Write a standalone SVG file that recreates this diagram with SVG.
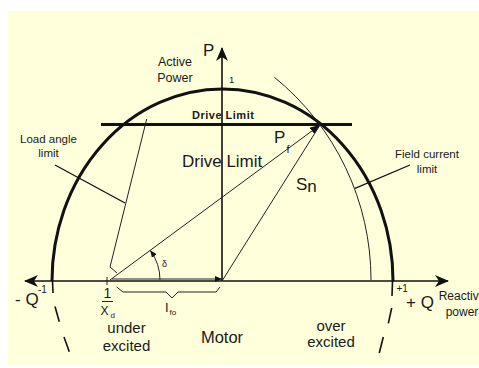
<svg xmlns="http://www.w3.org/2000/svg" width="479" height="368" viewBox="0 0 479 368">
  <style>
    .t { font-family: "Liberation Sans", Arial, sans-serif; fill: #1a1a1a; }
    .thin { stroke: #222; stroke-width: 1; fill: none; }
    .axis { stroke: #111; stroke-width: 1.6; fill: none; }
    .heavy { stroke: #111; stroke-width: 3; fill: none; }
    .dash { stroke: #111; stroke-width: 1.6; fill: none; }
  </style>
  <defs>
    <marker id="axisArrow" viewBox="0 0 14 12" refX="13" refY="6" markerWidth="14" markerHeight="12" markerUnits="userSpaceOnUse" orient="auto">
      <path d="M0,0 L14,6 L0,12 L4,6 z" fill="#111"/>
    </marker>
    <marker id="vecArrow" viewBox="0 0 10 8" refX="10" refY="4" markerWidth="10" markerHeight="8" markerUnits="userSpaceOnUse" orient="auto">
      <path d="M0,0 L10,4 L0,8 z" fill="#111"/>
    </marker>
    <marker id="smallArrow" viewBox="0 0 7 6" refX="7" refY="3" markerWidth="7" markerHeight="6" markerUnits="userSpaceOnUse" orient="auto">
      <path d="M0,0 L7,3 L0,6 z" fill="#111"/>
    </marker>
  </defs>

  <rect id="background" x="8" y="11" width="471" height="354" fill="#ffffdc"/>

  <g id="capability-curve">
    <path class="heavy" d="M52,281 A170.5,192 0 0 1 393,281"/>
    <line class="dash" x1="52.5" y1="281" x2="53" y2="293"/>
    <line class="dash" x1="55" y1="306.5" x2="59.3" y2="321.7"/>
    <line class="dash" x1="64" y1="337" x2="69.3" y2="351.7"/>
    <line class="dash" x1="392.5" y1="281" x2="392" y2="296"/>
    <line class="dash" x1="391.7" y1="308" x2="388.3" y2="323.3"/>
    <line class="dash" x1="383.3" y1="337" x2="379.3" y2="353"/>
  </g>

  <g id="drive-limit">
    <line class="heavy" x1="101" y1="124.5" x2="352" y2="124.5"/>
    <text class="t" x="192" y="119" font-size="11" font-weight="bold" letter-spacing="0.5">Drive Limit</text>
    <text class="t" x="182" y="167" font-size="17">Drive Limit</text>
  </g>

  <g id="field-current-limit">
    <path class="thin" d="M274.3,77.2 A261,261 0 0 1 371,280"/>
    <text class="t" x="427" y="158" font-size="11.5" text-anchor="middle">Field current</text>
    <text class="t" x="427" y="172.5" font-size="11.5" text-anchor="middle">limit</text>
  </g>

  <g id="load-angle-limit">
    <polyline class="thin" points="146.7,119 110,267 117,273"/>
    <text class="t" x="48.5" y="142.5" font-size="11.5" text-anchor="middle">Load angle</text>
    <text class="t" x="48.5" y="156.5" font-size="11.5" text-anchor="middle">limit</text>
  </g>

  <g id="axes">
    <line class="axis" x1="222.5" y1="281" x2="25" y2="281" marker-end="url(#axisArrow)"/>
    <line class="axis" x1="222.5" y1="281" x2="448" y2="281" marker-end="url(#axisArrow)"/>
    <line class="axis" x1="222" y1="281" x2="222" y2="48" marker-end="url(#axisArrow)"/>
    <text class="t" x="203" y="56" font-size="17">P</text>
    <text class="t" x="175" y="65.5" font-size="12.5" text-anchor="middle">Active</text>
    <text class="t" x="175" y="82" font-size="12.5" text-anchor="middle">Power</text>
    <text class="t" x="229" y="83" font-size="9.5">1</text>
    <text class="t" x="15" y="305" font-size="17">- Q</text>
    <text class="t" x="38" y="293" font-size="10">-1</text>
    <text class="t" x="396.5" y="291.5" font-size="10">+1</text>
    <text class="t" x="406" y="308" font-size="17">+ Q</text>
    <text class="t" x="462" y="299.5" font-size="12" text-anchor="middle">Reactive</text>
    <text class="t" x="462" y="316" font-size="12" text-anchor="middle">power</text>
  </g>

  <g id="connectors">
    <line class="thin" x1="110" y1="280" x2="320" y2="125" marker-end="url(#vecArrow)"/>
    <line class="thin" x1="222" y1="281" x2="320" y2="125"/>
    <line class="thin" x1="112" y1="279" x2="222" y2="279" marker-end="url(#smallArrow)"/>
    <path class="thin" d="M160,280 A50,50 0 0 0 150.2,250.3" marker-end="url(#smallArrow)"/>
    <line stroke="#111" stroke-width="1.3" x1="55" y1="165" x2="125" y2="203"/>
    <line stroke="#111" stroke-width="1.3" x1="410" y1="165" x2="355" y2="188.3"/>
    <path class="thin" d="M116.7,287 L123,292 L166,292 L172,298 L178,292 L216,292 L220,287"/>
    <line class="thin" x1="107" y1="277" x2="107" y2="285"/>
  </g>

  <g id="labels">
    <text class="t" x="274" y="143" font-size="17">P</text>
    <text class="t" x="286.5" y="153" font-size="11">f</text>
    <text class="t" x="296" y="190" font-size="17">S<tspan dy="2">n</tspan></text>
    <text class="t" x="162" y="267" font-size="9">δ</text>
    <text class="t" x="165" y="311.5" font-size="13">I</text>
    <text class="t" x="169.5" y="315" font-size="8">fo</text>
    <text class="t" x="107.5" y="298" font-size="14" text-anchor="middle">1</text>
    <line class="thin" x1="102" y1="301.5" x2="113" y2="301.5"/>
    <text class="t" x="100.5" y="314.5" font-size="12">X</text>
    <text class="t" x="110.5" y="317.5" font-size="8">d</text>
    <text class="t" x="126.5" y="332.5" font-size="15" text-anchor="middle">under</text>
    <text class="t" x="126.5" y="350.5" font-size="15" text-anchor="middle">excited</text>
    <text class="t" x="222" y="343" font-size="16.5" text-anchor="middle">Motor</text>
    <text class="t" x="331" y="330.5" font-size="15" text-anchor="middle">over</text>
    <text class="t" x="331" y="346.5" font-size="15" text-anchor="middle">excited</text>
  </g>
</svg>
